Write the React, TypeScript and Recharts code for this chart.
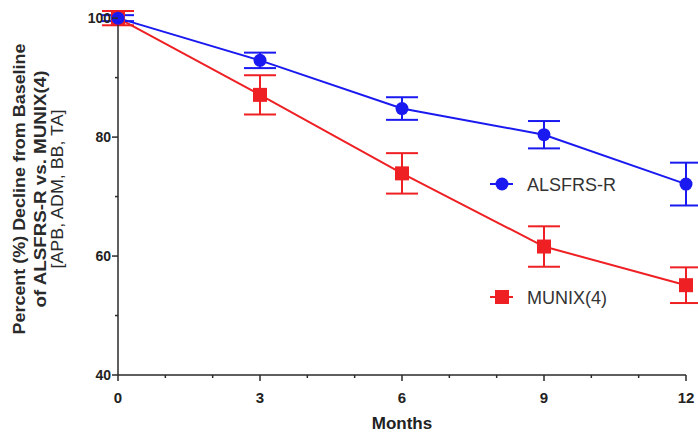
import { ErrorBar, Label, Line, LineChart, XAxis, YAxis } from "recharts";

// months after baseline
const months = [0, 3, 6, 9, 12];

// ALSFRS-R, percent of baseline (mean and SEM)
const alsfrsMean = [100, 92.9, 84.8, 80.4, 72.1];
const alsfrsSem = [0.5, 1.3, 1.9, 2.3, 3.6];

// MUNIX(4), percent of baseline (mean and SEM)
const munixMean = [100, 87.1, 73.9, 61.6, 55.1];
const munixSem = [1.2, 3.3, 3.4, 3.4, 3.0];

const xTicks = [0, 1, 2, 3, 4, 5, 6, 7, 8, 9, 10, 11, 12];
const xLabels = [0, 3, 6, 9, 12];
const yTicks = [40, 50, 60, 70, 80, 90, 100];
const yLabels = [40, 60, 80, 100];

const BLUE = "#1a1af0";
const RED = "#ee2024";
const AXIS = "#2a2a2a";
const FONT = "'Liberation Sans', Arial, sans-serif";

const legendItems = [
  { name: "ALSFRS-R", color: BLUE, shape: "circle" },
  { name: "MUNIX(4)", color: RED, shape: "square" },
];

const data = months.map((m, i) => ({
  month: m,
  alsfrs: alsfrsMean[i],
  alsfrsErr: alsfrsSem[i],
  munix: munixMean[i],
  munixErr: munixSem[i],
}));

function MonthTick({ x, y, payload }: any) {
  const major = xLabels.includes(payload.value);
  return (
    <g>
      <line x1={x} x2={x} y1={y} y2={y + (major ? 6 : 3)} stroke={AXIS} strokeWidth={1.5} />
      {major && (
        <text x={x} y={y + 28} textAnchor="middle" fontFamily={FONT} fontWeight="bold" fontSize={15} fill="#222">
          {payload.value}
        </text>
      )}
    </g>
  );
}

function PercentTick({ x, y, payload }: any) {
  const major = yLabels.includes(payload.value);
  return (
    <g>
      <line x1={x} x2={x - (major ? 6 : 3)} y1={y} y2={y} stroke={AXIS} strokeWidth={1.5} />
      {major && (
        <text x={x - 7} y={y + 5} textAnchor="end" fontFamily={FONT} fontWeight="bold" fontSize={14} fill="#222">
          {payload.value}
        </text>
      )}
    </g>
  );
}

function SquareDot({ cx, cy }: any) {
  if (cx == null || cy == null) return null;
  return <rect x={cx - 7} y={cy - 7} width={14} height={14} fill={RED} />;
}

// three-line rotated title, each line stretched to a fixed length
function YTitle() {
  const cy = 189;
  const lines = [
    { text: "Percent (%) Decline from Baseline", x: 19, len: 291, bold: true },
    { text: "of ALSFRS-R vs. MUNIX(4)", x: 40, len: 237, bold: true },
    { text: "[APB, ADM, BB, TA]", x: 57, len: 159, bold: false },
  ];
  return (
    <g>
      {lines.map((l) => (
        <g key={l.text} transform={`translate(${l.x} ${cy}) rotate(-90)`}>
          <text
            x={-l.len / 2}
            y={0}
            textLength={l.len}
            lengthAdjust="spacingAndGlyphs"
            dominantBaseline="central"
            fontFamily={FONT}
            fontWeight={l.bold ? "bold" : "normal"}
            fontSize={16}
            fill="#2a2a2a"
          >
            {l.text}
          </text>
        </g>
      ))}
    </g>
  );
}

function XTitle({ viewBox }: any) {
  return (
    <text
      x={viewBox.x + viewBox.width / 2}
      y={viewBox.y + 54}
      textAnchor="middle"
      fontFamily={FONT}
      fontWeight="bold"
      fontSize={17}
      fill="#222"
    >
      Months
    </text>
  );
}

function SeriesLegend() {
  return (
    <svg width={200} height={150} style={{ position: "absolute", left: 488, top: 170 }}>
      {legendItems.map((item, i) => {
        const y = 14 + i * 113;
        return (
          <g key={item.name}>
            <line x1={2} x2={25} y1={y} y2={y} stroke={item.color} strokeWidth={2} />
            {item.shape === "square" ? (
              <rect x={7} y={y - 7} width={14} height={14} fill={item.color} />
            ) : (
              <circle cx={14} cy={y} r={6.5} fill={item.color} />
            )}
            <text x={39} y={y + 7} fontFamily={FONT} fontSize={18} fill="#333">
              {item.name}
            </text>
          </g>
        );
      })}
    </svg>
  );
}

export default function App() {
  return (
    <div style={{ position: "fixed", left: 0, top: 0, width: 698, height: 436, background: "#fff" }}>
      <LineChart width={698} height={436} data={data} margin={{ top: 11, right: 12, bottom: 0, left: 0 }}>
        <XAxis
          dataKey="month"
          type="number"
          domain={[0, 12]}
          ticks={xTicks}
          interval={0}
          tickSize={0}
          tickMargin={0}
          tick={<MonthTick />}
          axisLine={{ stroke: AXIS, strokeWidth: 1.5 }}
          height={61}
        >
          <Label content={<XTitle />} />
        </XAxis>
        <YAxis
          type="number"
          domain={[40, 100]}
          ticks={yTicks}
          interval={0}
          tickSize={0}
          tickMargin={0}
          tick={<PercentTick />}
          axisLine={{ stroke: AXIS, strokeWidth: 1.5 }}
          width={118}
        >
          <Label content={<YTitle />} />
        </YAxis>
        <Line
          dataKey="munix"
          name="MUNIX(4)"
          stroke={RED}
          strokeWidth={2}
          dot={<SquareDot />}
          activeDot={false}
          isAnimationActive={false}
        >
          <ErrorBar dataKey="munixErr" width={16} stroke={RED} strokeWidth={2} direction="y" />
        </Line>
        <Line
          dataKey="alsfrs"
          name="ALSFRS-R"
          stroke={BLUE}
          strokeWidth={2}
          dot={{ r: 6.5, fill: BLUE, stroke: BLUE, strokeWidth: 0 }}
          activeDot={false}
          isAnimationActive={false}
        >
          <ErrorBar dataKey="alsfrsErr" width={16} stroke={BLUE} strokeWidth={2} direction="y" />
        </Line>
      </LineChart>
      <SeriesLegend />
    </div>
  );
}
